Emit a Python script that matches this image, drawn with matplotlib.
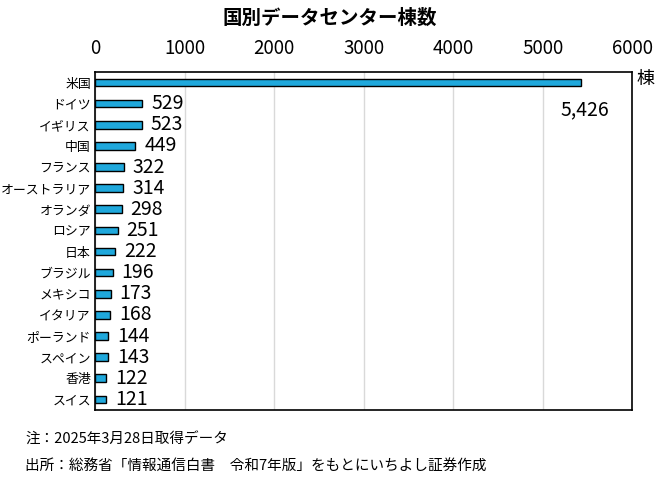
import matplotlib
matplotlib.use("Agg")
import matplotlib.pyplot as plt

plt.rcParams['font.family'] = ['Noto Sans CJK JP', 'DejaVu Sans']

countries = ["米国", "ドイツ", "イギリス", "中国", "フランス", "オーストラリア", "オランダ", "ロシア",
             "日本", "ブラジル", "メキシコ", "イタリア", "ポーランド", "スペイン", "香港", "スイス"]
values = [5426, 529, 523, 449, 322, 314, 298, 251, 222, 196, 173, 168, 144, 143, 122, 121]
xticks = [0, 1000, 2000, 3000, 4000, 5000, 6000]

fig = plt.figure(figsize=(6.6, 4.8), dpi=100)
ax = fig.add_axes([0.144, 0.146, 0.814, 0.704])

y = list(range(len(countries)))
ax.barh(y, values, height=0.36, color="#1FA8DC", edgecolor="black", linewidth=1.0, zorder=3)
ax.set_ylim(len(countries) - 0.5, -0.5)
ax.set_xlim(0, 6000)
ax.set_xticks(xticks)
ax.set_xticklabels([str(t) for t in xticks], fontsize=13.5)
ax.xaxis.tick_top()
ax.tick_params(axis='x', length=0, pad=9)
ax.set_yticks(y)
ax.set_yticklabels(countries, fontsize=9.3)
ax.tick_params(axis='y', length=0, pad=3)
ax.grid(axis='x', color="#d9d9d9", linewidth=1, zorder=0)
for s in ax.spines.values():
    s.set_color("black")
    s.set_linewidth(1.2)

for i, v in enumerate(values):
    if i == 0:
        ax.text(v + 50, 1.3, f"{v:,}", fontsize=14, ha="center", va="center")
    else:
        ax.text(v + 100, i, f"{v:,}", fontsize=14, ha="left", va="center")

fig.text(0.965, 0.835, "棟", fontsize=13, ha="left", va="center")
fig.text(0.5, 0.962, "国別データセンター棟数", fontsize=14, fontweight="bold", ha="center", va="center")
fig.text(0.038, 0.085, "注：2025年3月28日取得データ", fontsize=10.5, ha="left", va="center")
fig.text(0.038, 0.030, "出所：総務省「情報通信白書　令和7年版」をもとにいちよし証券作成", fontsize=10.5, ha="left", va="center")

fig.savefig("out.png", dpi=100)
